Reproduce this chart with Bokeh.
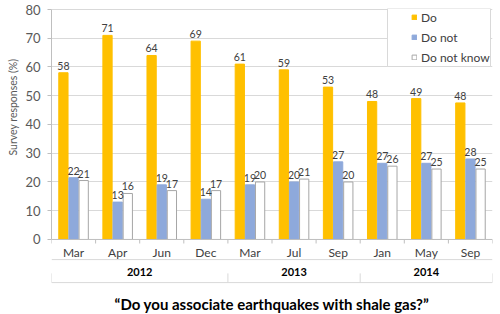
import numpy as np
from bokeh.plotting import figure
from bokeh.models import (Range1d, LinearAxis, FixedTicker, Grid, Legend, LegendItem,
                          Title, Span, BoxAnnotation)
from bokeh.embed import file_html
from bokeh.resources import INLINE
from bokeh.core.properties import value

# ---- data ----
months = ["Mar", "Apr", "Jun", "Dec", "Mar", "Jul", "Sep", "Jan", "May", "Sep"]
years = ["2012", "2013", "2014"]
year_counts = [4, 3, 3]
do_vals = [58, 71, 64, 69, 61, 59, 53, 48, 49, 47.5]
do_not_vals = [21.5, 13, 19, 14, 19, 20, 27, 26.5, 26.5, 28]
dnk_vals = [20.5, 16, 17, 17, 20, 21, 20, 25.5, 24.5, 24.5]
do_lbl = [58, 71, 64, 69, 61, 59, 53, 48, 49, 48]
do_not_lbl = [22, 13, 19, 14, 19, 20, 27, 27, 27, 28]
dnk_lbl = [21, 16, 17, 17, 20, 21, 20, 26, 25, 25]
y_ticks = [0, 10, 20, 30, 40, 50, 60, 70, 80]
title_text = "\u201cDo you associate earthquakes with shale gas?\u201d"
y_label = "Survey responses (%)"

FONT = "Lato"
C_DO = "#FFC000"
C_DONOT = "#8EA9DB"
C_DNK = "#FFFFFF"
C_GRID = "#D9D9D9"
C_TXT = "#404040"

n = len(months)
centers = np.arange(n) + 0.5
bw = 0.21
off = 0.23

p = figure(width=500, height=314, x_range=Range1d(0, n), y_range=Range1d(-26.1, 80.35),
           x_axis_type=None, y_axis_type=None, output_backend="svg", toolbar_location=None,
           min_border_left=49, min_border_right=8, min_border_top=8, min_border_bottom=0)
p.outline_line_color = None
p.background_fill_color = "white"

yaxis = LinearAxis(bounds=(0, 80), ticker=FixedTicker(ticks=y_ticks))
yaxis.axis_line_color = "#BFBFBF"
yaxis.major_tick_line_color = "#BFBFBF"
yaxis.major_tick_out = 4
yaxis.major_tick_in = 0
yaxis.minor_tick_line_color = None
yaxis.major_label_text_font = FONT
yaxis.major_label_text_font_size = "13px"
yaxis.major_label_text_color = "#595959"
yaxis.major_label_standoff = 7
p.add_layout(yaxis, "left")

grid = Grid(dimension=1, ticker=FixedTicker(ticks=y_ticks[1:]), grid_line_color=C_GRID)
p.add_layout(grid)

# x-axis baseline and boundary ticks
p.add_layout(Span(location=0, dimension="width", line_color="#BFBFBF", line_width=1))
bounds = np.arange(n + 1)
p.segment(x0=bounds, y0=0, x1=bounds, y1=-1.4, line_color="#BFBFBF")

r_do = p.vbar(x=centers - off, top=do_vals, width=bw, fill_color=C_DO, line_color=C_DO)
r_dn = p.vbar(x=centers, top=do_not_vals, width=bw, fill_color=C_DONOT, line_color=C_DONOT)
r_dk = p.vbar(x=centers + off, top=dnk_vals, width=bw, fill_color=C_DNK, line_color="#A6A6A6")

lbl_kw = dict(text_font=value(FONT), text_font_size="10.5px", text_color=C_TXT,
              text_align="center", text_baseline="bottom", y_offset=-3)
p.text(x=centers - off, y=do_vals, text=[str(v) for v in do_lbl], **lbl_kw)
p.text(x=centers, y=do_not_vals, text=[str(v) for v in do_not_lbl], **lbl_kw)
p.text(x=centers + off, y=dnk_vals, text=[str(v) for v in dnk_lbl], **lbl_kw)

# month labels
p.text(x=centers, y=-4.5, text=months, text_font=value(FONT), text_font_size="12px",
       text_color=C_TXT, text_align="center", text_baseline="middle")

# year grouping
edges = np.concatenate([[0], np.cumsum(year_counts)])
p.segment(x0=[0, 0], y0=[-7.0, -15.0], x1=[n, n], y1=[-7.0, -15.0], line_color=C_GRID)
p.segment(x0=edges, y0=-11.8, x1=edges, y1=-15.0, line_color=C_GRID)
ymid = (edges[:-1] + edges[1:]) / 2
p.text(x=ymid, y=-11.2, text=years, text_font=value(FONT), text_font_size="11px",
       text_font_style="bold", text_color="#000000", text_align="center", text_baseline="middle")

# chart title (below the category axis)
p.text(x=[n / 2], y=[-22.3], text=[title_text], text_font=value(FONT), text_font_size="15px",
       text_font_style="bold", text_color="#000000", text_align="center", text_baseline="middle")

# y-axis label as a left-side title
p.add_layout(Title(text=y_label, align="left", offset=159, standoff=8, text_font=FONT,
                   text_font_size="10.5px", text_font_style="normal", text_color="#595959"), "left")

# legend box + legend
p.add_layout(BoxAnnotation(left=387, right=490, top=8, bottom=66, left_units="canvas",
                           right_units="canvas", top_units="canvas", bottom_units="canvas",
                           fill_color="white", fill_alpha=1, line_color=C_GRID, line_width=1,
                           line_alpha=1))
legend = Legend(items=[LegendItem(label="Do", renderers=[r_do]),
                       LegendItem(label="Do not", renderers=[r_dn]),
                       LegendItem(label="Do not know", renderers=[r_dk])],
                location=(360, 247.5), padding=0, spacing=1, label_height=19,
                glyph_width=6, glyph_height=6, label_standoff=4,
                border_line_color=None, background_fill_alpha=0,
                label_text_font=FONT, label_text_font_size="12px", label_text_color=C_TXT)
p.add_layout(legend)

open("out.html", "w").write(file_html(p, INLINE))
